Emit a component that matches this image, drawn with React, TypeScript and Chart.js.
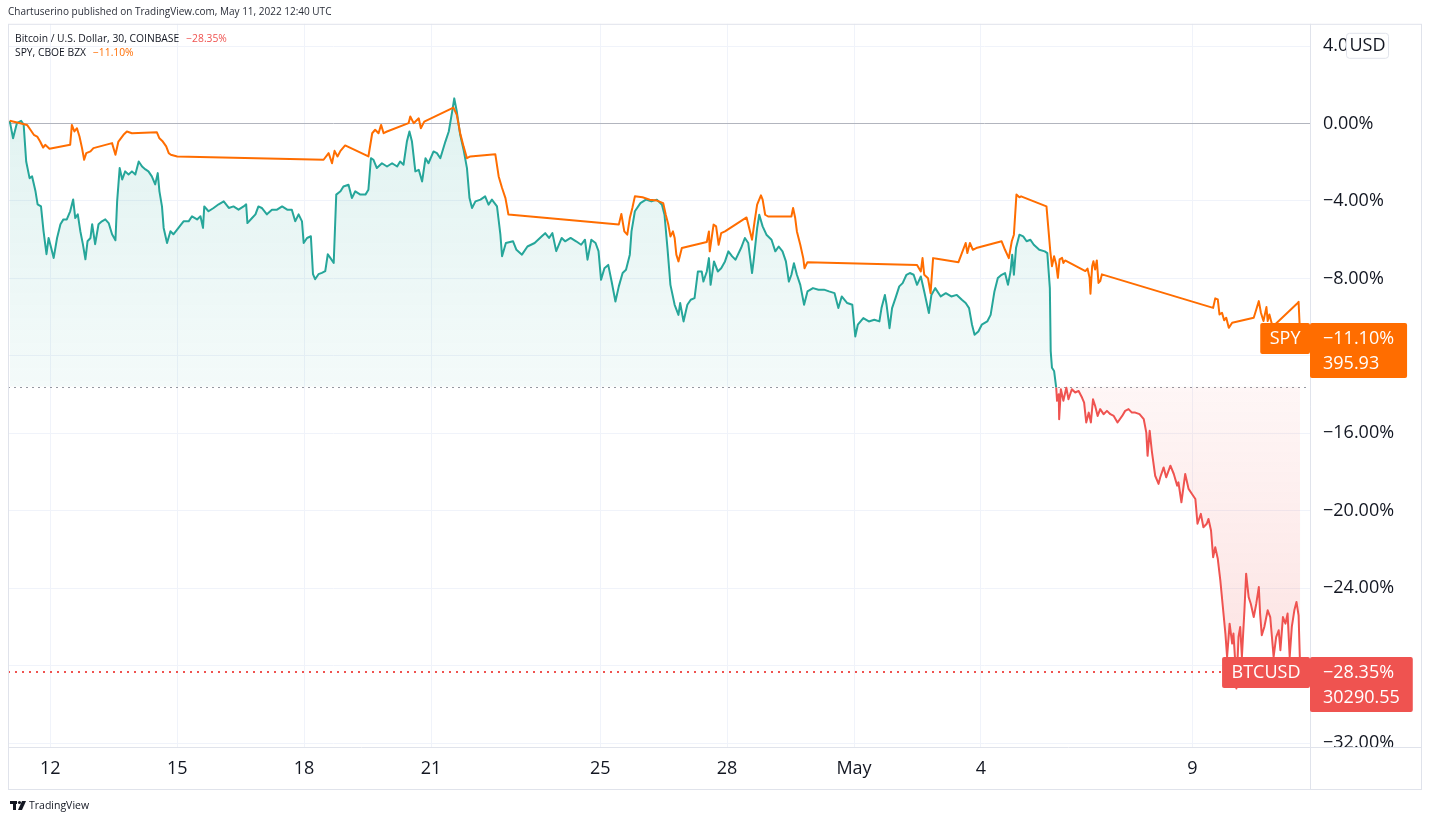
import React, { useEffect, useRef } from 'react';
import { Chart, registerables } from 'chart.js';

Chart.register(...registerables);

// ---- data (x = days since Apr 11 00:00 UTC, y = % change) ----
const BTC_DAYS = [
  0.04, 0.12, 0.21, 0.31, 0.37, 0.43, 0.51, 0.57, 0.65, 0.70, 0.78, 0.84, 0.91, 0.96, 1.02, 1.08, 1.16, 1.24, 1.31, 1.39,
  1.47, 1.54, 1.59, 1.65, 1.71, 1.77, 1.83, 1.88, 1.95, 1.99, 2.06, 2.14, 2.22, 2.30, 2.38, 2.46, 2.54, 2.58, 2.64, 2.70,
  2.77, 2.85, 2.93, 3.01, 3.09, 3.17, 3.25, 3.32, 3.40, 3.48, 3.54, 3.58, 3.64, 3.68, 3.76, 3.84, 3.91, 4.03, 4.15, 4.27,
  4.35, 4.47, 4.55, 4.61, 4.64, 4.74, 4.86, 4.98, 5.10, 5.22, 5.33, 5.45, 5.57, 5.63, 5.66, 5.77, 5.85, 5.92, 6.00, 6.12,
  6.24, 6.36, 6.48, 6.60, 6.71, 6.79, 6.87, 6.95, 6.99, 7.07, 7.16, 7.21, 7.26, 7.34, 7.42, 7.50, 7.56, 7.62, 7.70, 7.76,
  7.86, 7.93, 8.05, 8.13, 8.21, 8.33, 8.45, 8.52, 8.58, 8.64, 8.72, 8.84, 8.96, 9.08, 9.20, 9.27, 9.35, 9.43, 9.49, 9.55,
  9.63, 9.71, 9.79, 9.87, 9.94, 10.06, 10.14, 10.22, 10.34, 10.42, 10.50, 10.55, 10.61, 10.69, 10.77, 10.85, 10.91, 10.97, 11.05, 11.17,
  11.28, 11.36, 11.44, 11.56, 11.64, 11.68, 11.77, 11.94, 12.02, 12.15, 12.28, 12.45, 12.62, 12.70, 12.79, 12.87, 12.96, 13.09, 13.17, 13.30,
  13.43, 13.55, 13.64, 13.70, 13.79, 13.89, 13.96, 14.02, 14.10, 14.19, 14.27, 14.36, 14.44, 14.53, 14.61, 14.70, 14.74, 14.82, 14.95, 15.08,
  15.21, 15.34, 15.46, 15.52, 15.59, 15.66, 15.76, 15.85, 15.89, 15.97, 16.06, 16.14, 16.23, 16.31, 16.40, 16.44, 16.52, 16.57, 16.61, 16.69,
  16.78, 16.86, 16.95, 17.03, 17.12, 17.20, 17.33, 17.42, 17.50, 17.59, 17.63, 17.71, 17.76, 17.84, 17.93, 18.05, 18.14, 18.22, 18.31, 18.39,
  18.46, 18.52, 18.58, 18.65, 18.73, 18.82, 18.90, 19.03, 19.16, 19.29, 19.41, 19.54, 19.63, 19.71, 19.84, 19.96, 20.03, 20.09, 20.22, 20.35,
  20.48, 20.60, 20.65, 20.73, 20.77, 20.84, 20.90, 20.98, 21.07, 21.15, 21.24, 21.32, 21.41, 21.49, 21.58, 21.66, 21.77, 21.83, 21.92, 22.05,
  22.17, 22.30, 22.43, 22.55, 22.64, 22.72, 22.79, 22.85, 22.94, 23.02, 23.15, 23.23, 23.32, 23.40, 23.49, 23.57, 23.64, 23.70, 23.74, 23.78,
  23.83, 23.91, 24.00, 24.08, 24.17, 24.25, 24.38, 24.51, 24.57, 24.63, 24.65, 24.68, 24.73, 24.78, 24.80, 24.84, 24.85, 24.89, 24.95, 25.02,
  25.07, 25.15, 25.23, 25.31, 25.39, 25.44, 25.49, 25.55, 25.60, 25.65, 25.70, 25.76, 25.82, 25.90, 25.98, 26.06, 26.14, 26.23, 26.34, 26.41,
  26.49, 26.57, 26.65, 26.75, 26.85, 26.91, 26.94, 26.99, 27.04, 27.12, 27.20, 27.24, 27.32, 27.38, 27.48, 27.56, 27.64, 27.67, 27.74, 27.83,
  27.91, 27.99, 28.07, 28.12, 28.20, 28.26, 28.34, 28.38, 28.44, 28.49, 28.54, 28.60, 28.66, 28.72, 28.78, 28.82, 28.88, 28.94, 28.97, 29.01,
  29.04, 29.09, 29.13, 29.17, 29.23, 29.27, 29.33, 29.38, 29.45, 29.51, 29.57, 29.60, 29.64, 29.70, 29.78, 29.84, 29.88, 29.92, 29.98, 30.04,
  30.08, 30.14, 30.20, 30.25, 30.30, 30.35, 30.41, 30.46, 30.51, 30.55,
];
const BTC_PCT = [
  0.14, -0.76, 0.02, 0.14, -0.05, -1.96, -2.82, -2.73, -3.50, -4.17, -4.28, -5.56, -6.75, -5.91, -6.42, -6.94, -5.91, -5.20, -4.95, -4.95,
  -4.53, -3.92, -4.88, -4.69, -5.56, -6.23, -7.01, -6.08, -5.91, -5.20, -6.23, -5.20, -5.05, -4.95, -5.14, -5.72, -6.03, -4.02, -2.30, -2.89,
  -2.47, -2.63, -2.47, -2.63, -1.96, -2.22, -2.37, -2.47, -2.73, -3.14, -2.56, -3.50, -4.28, -5.39, -6.17, -5.56, -5.72, -5.39, -5.05, -5.05,
  -4.79, -4.95, -4.79, -5.39, -4.28, -4.53, -4.36, -4.17, -4.02, -4.36, -4.28, -4.45, -4.28, -4.17, -5.14, -4.88, -4.69, -4.28, -4.36, -4.69,
  -4.45, -4.45, -4.28, -4.45, -4.45, -5.05, -4.69, -5.05, -6.17, -5.91, -5.82, -7.78, -8.04, -7.78, -7.71, -7.62, -6.75, -6.94, -7.20, -3.67,
  -3.50, -3.25, -3.16, -3.85, -3.50, -3.67, -3.67, -3.42, -1.79, -1.87, -2.30, -2.05, -2.22, -2.05, -2.22, -1.96, -2.13, -0.93, -0.41, -0.93,
  -2.47, -2.39, -2.99, -1.79, -2.05, -1.44, -1.53, -1.79, -0.93, -0.41, 0.62, 1.30, 0.62, -0.58, -1.35, -2.30, -3.85, -4.36, -4.02, -3.93,
  -3.76, -4.19, -3.93, -4.28, -5.73, -6.85, -6.17, -6.08, -6.52, -6.77, -6.35, -6.17, -5.82, -5.66, -5.91, -5.66, -6.59, -5.91, -6.08, -5.91,
  -6.08, -6.26, -6.00, -7.03, -6.00, -6.17, -6.59, -8.07, -7.47, -7.30, -8.16, -9.19, -8.41, -7.72, -7.55, -6.77, -5.57, -4.53, -4.11, -3.93,
  -4.02, -3.93, -4.19, -4.71, -6.43, -8.33, -9.36, -9.88, -9.27, -10.22, -9.36, -9.10, -9.02, -7.64, -7.64, -8.16, -7.64, -6.95, -8.33, -7.12,
  -7.64, -7.47, -7.12, -6.60, -6.86, -7.03, -6.43, -5.91, -6.17, -7.72, -7.03, -5.40, -4.71, -5.31, -5.74, -6.00, -6.60, -6.35, -6.60, -7.12,
  -8.16, -7.81, -7.21, -7.81, -8.33, -9.36, -8.67, -8.50, -8.58, -8.58, -8.67, -8.76, -9.53, -8.93, -9.27, -9.36, -11.00, -10.39, -10.05, -10.22,
  -10.13, -10.22, -9.53, -8.85, -9.36, -10.57, -9.53, -9.02, -8.41, -8.24, -7.81, -7.72, -7.81, -8.33, -7.90, -8.67, -9.79, -8.85, -8.50, -8.93,
  -8.76, -8.93, -8.85, -9.10, -9.27, -9.53, -10.39, -10.91, -10.74, -10.39, -10.22, -9.88, -8.67, -7.98, -7.81, -7.72, -8.33, -7.64, -6.77, -7.81,
  -6.43, -5.74, -5.83, -6.08, -6.00, -6.26, -6.52, -6.60, -6.69, -8.50, -11.75, -12.61, -12.78, -13.64, -14.32, -13.98, -15.27, -13.72, -14.32, -13.64,
  -14.24, -13.72, -13.89, -13.81, -14.15, -14.41, -15.44, -14.93, -15.44, -14.24, -14.58, -15.10, -14.75, -15.01, -14.84, -15.01, -15.10, -15.44, -15.10, -14.84,
  -14.75, -14.93, -14.93, -15.01, -15.27, -15.96, -17.16, -15.87, -16.90, -18.19, -18.61, -18.27, -17.76, -18.27, -17.67, -18.10, -18.70, -18.53, -19.56, -18.10,
  -18.87, -19.13, -19.39, -20.67, -20.16, -20.85, -20.67, -20.42, -21.02, -22.40, -21.88, -22.48, -23.60, -24.97, -26.34, -27.55, -25.83, -26.86, -26.34, -27.72,
  -29.18, -26.52, -26.00, -27.55, -25.14, -23.25, -24.46, -24.80, -25.49, -24.80, -23.94, -25.31, -26.43, -26.00, -25.14, -25.49, -26.52, -27.55, -26.52, -26.17,
  -27.20, -25.49, -25.83, -25.31, -27.55, -26.00, -25.14, -24.71, -25.40, -28.35,
];

const SPY_DAYS = [
  0.04, 0.29, 0.45, 0.53, 0.61, 0.69, 0.76, 0.83, 0.88, 0.98, 1.47, 1.51, 1.57, 1.63, 1.69, 1.75, 1.80, 1.85, 1.95, 2.02,
  2.46, 2.54, 2.61, 2.73, 2.81, 2.93, 3.52, 3.58, 3.66, 3.74, 3.80, 3.85, 4.00, 7.46, 7.58, 7.66, 7.72, 7.79, 7.86, 7.97,
  8.52, 8.61, 8.68, 8.76, 8.82, 8.88, 8.96, 9.47, 9.51, 9.59, 9.71, 9.76, 9.84, 10.53, 10.61, 10.69, 10.77, 10.85, 10.93, 11.52,
  11.60, 11.68, 11.76, 11.83, 14.44, 14.50, 14.57, 14.64, 14.70, 14.76, 14.82, 15.00, 15.17, 15.34, 15.49, 15.55, 15.61, 15.66, 15.72, 15.76,
  15.80, 15.85, 15.93, 16.52, 16.57, 16.59, 16.68, 16.74, 16.80, 16.86, 16.95, 17.46, 17.59, 17.65, 17.71, 17.80, 17.84, 17.90, 17.97, 18.52,
  18.56, 18.61, 18.65, 18.73, 18.80, 18.83, 18.90, 21.49, 21.58, 21.62, 21.66, 21.75, 21.81, 21.87, 21.96, 22.47, 22.55, 22.64, 22.68, 22.74,
  22.81, 22.89, 23.49, 23.57, 23.66, 23.73, 23.78, 23.84, 23.91, 23.95, 24.55, 24.60, 24.64, 24.68, 24.73, 24.78, 24.82, 24.86, 24.92, 24.95,
  24.99, 25.47, 25.52, 25.57, 25.59, 25.63, 25.66, 25.70, 25.74, 25.78, 25.82, 25.86, 28.49, 28.54, 28.60, 28.64, 28.70, 28.75, 28.80, 28.86,
  28.94, 29.45, 29.51, 29.57, 29.62, 29.68, 29.75, 29.78, 29.82, 29.88, 29.96, 30.47, 30.51, 30.55,
];
const SPY_PCT = [
  0.14, 0.02, -0.07, -0.32, -0.58, -0.67, -0.93, -1.24, -1.10, -1.30, -1.10, -0.07, -0.41, -0.24, -0.67, -1.27, -1.87, -1.53, -1.44, -1.27,
  -1.01, -1.61, -0.93, -0.58, -0.41, -0.50, -0.45, -0.76, -0.93, -1.18, -1.53, -1.61, -1.70, -1.87, -1.53, -2.05, -1.41, -1.70, -1.41, -1.13,
  -1.70, -0.50, -0.32, -0.50, -0.07, -0.50, -0.41, 0.02, 0.36, 0.02, 0.27, -0.24, 0.10, 0.82, 0.45, -0.50, -1.18, -1.79, -1.70, -1.58,
  -2.73, -3.33, -3.85, -4.70, -5.22, -4.67, -5.57, -5.74, -4.88, -4.36, -3.76, -3.81, -3.93, -3.98, -4.11, -4.71, -5.22, -5.83, -5.57, -5.91,
  -6.77, -7.12, -6.43, -6.12, -5.57, -6.60, -5.22, -5.31, -6.26, -5.66, -5.57, -4.85, -6.00, -5.05, -4.19, -3.71, -3.93, -4.71, -4.80, -4.80,
  -4.36, -4.88, -5.57, -6.26, -6.95, -7.47, -7.16, -7.30, -7.64, -6.95, -7.81, -7.99, -8.76, -6.95, -6.98, -7.16, -6.69, -6.17, -6.69, -6.17,
  -6.52, -6.43, -6.08, -6.52, -6.95, -6.08, -5.74, -3.67, -3.81, -3.76, -4.28, -5.56, -6.59, -7.37, -6.85, -7.28, -7.97, -7.02, -6.94, -7.20,
  -7.07, -7.62, -7.49, -7.97, -8.79, -7.37, -7.11, -7.54, -7.07, -8.23, -8.14, -7.79, -9.52, -9.03, -9.08, -9.86, -9.77, -10.16, -10.03, -10.55,
  -10.29, -10.03, -9.60, -9.17, -9.77, -10.20, -9.48, -10.20, -9.86, -10.37, -10.37, -9.31, -9.21, -11.10,
];

const X_TICK_DAYS = [1, 4, 7, 10, 14, 17, 20, 23, 28];
const X_TICK_LABELS = ['12', '15', '18', '21', '25', '28', 'May', '4', '9'];
const Y_TICKS = [4, 0, -4, -8, -12, -16, -20, -24, -28, -32];
const X_MIN = 0;
const X_MAX = 30.78;
const Y_MIN = -32.2;
const Y_MAX = 5.152;
const BASELINE = -13.6;
const BTC_NAME = 'BTCUSD';
const SPY_NAME = 'SPY';
const BTC_PRICE = '30290.55';
const SPY_PRICE = '395.93';
const BTC_LEGEND = 'Bitcoin / U.S. Dollar, 30, COINBASE';
const SPY_LEGEND = 'SPY, CBOE BZX';
const HEADER = 'Chartuserino published on TradingView.com, May 11, 2022 12:40 UTC';

// ---- styles ----
const TEAL = '#26a69a';
const RED = '#ef5350';
const ORANGE = '#ff6d00';
const TEXT = '#131722';
const FRAME = '#e0e3eb';
const GRID = '#f0f3fa';
const ZERO = '#b2b5be';
const FONT = "'Open Sans', 'Liberation Sans', sans-serif";

const BTC_LAST = BTC_PCT[BTC_PCT.length - 1];
const SPY_LAST = SPY_PCT[SPY_PCT.length - 1];

function fmtPct(v: number) {
  return (v < 0 ? '\u2212' : '') + Math.abs(v).toFixed(2) + '%';
}

function rr(ctx: CanvasRenderingContext2D, x: number, y: number, w: number, h: number, r: number) {
  ctx.beginPath();
  ctx.moveTo(x + r, y);
  ctx.arcTo(x + w, y, x + w, y + h, r);
  ctx.arcTo(x + w, y + h, x, y + h, r);
  ctx.arcTo(x, y + h, x, y, r);
  ctx.arcTo(x, y, x + w, y, r);
  ctx.closePath();
}

const overlay = {
  id: 'overlay',
  beforeDatasetsDraw(chart: any) {
    const { ctx, chartArea: a } = chart;
    const ys = chart.scales.y;
    ctx.save();
    const yb = Math.round(ys.getPixelForValue(BASELINE)) + 0.5;
    ctx.strokeStyle = '#9598a1';
    ctx.lineWidth = 1;
    ctx.setLineDash([2, 4]);
    ctx.beginPath();
    ctx.moveTo(a.left, yb);
    ctx.lineTo(a.right, yb);
    ctx.stroke();
    ctx.font = `18px ${FONT}`;
    const nw = ctx.measureText(BTC_NAME).width + 19;
    const yl = Math.round(ys.getPixelForValue(BTC_LAST));
    ctx.strokeStyle = RED;
    ctx.lineWidth = 2;
    ctx.setLineDash([2, 5]);
    ctx.beginPath();
    ctx.moveTo(a.left, yl);
    ctx.lineTo(a.right - nw, yl);
    ctx.stroke();
    ctx.restore();
  },
  afterDraw(chart: any) {
    const { ctx, chartArea: a } = chart;
    const ys = chart.scales.y;
    const xs = chart.scales.x;
    const right = ys.right;
    const bottom = xs.bottom;
    ctx.save();
    // clip the axis label that runs into the time axis
    ctx.fillStyle = '#ffffff';
    ctx.fillRect(a.right + 1, a.bottom + 1, right - a.right - 1, bottom - a.bottom - 1);
    // frame
    ctx.strokeStyle = FRAME;
    ctx.lineWidth = 1;
    ctx.setLineDash([]);
    ctx.strokeRect(a.left + 0.5, a.top + 0.5, right - a.left - 1, bottom - a.top - 1);
    ctx.beginPath();
    ctx.moveTo(a.right + 0.5, a.top);
    ctx.lineTo(a.right + 0.5, bottom);
    ctx.moveTo(a.left, a.bottom + 0.5);
    ctx.lineTo(right, a.bottom + 0.5);
    ctx.stroke();

    // USD box
    ctx.font = `18px ${FONT}`;
    const uw = ctx.measureText('USD').width + 6;
    const ux = a.right + 36;
    const uy = a.top + 9;
    ctx.fillStyle = '#ffffff';
    rr(ctx, ux + 0.5, uy + 0.5, uw, 25, 3);
    ctx.fill();
    ctx.strokeStyle = FRAME;
    ctx.stroke();
    ctx.fillStyle = TEXT;
    ctx.textAlign = 'center';
    ctx.textBaseline = 'middle';
    ctx.fillText('USD', ux + 0.5 + uw / 2, uy + 13);

    // price tags
    const tag = (name: string, value: number, price: string, color: string) => {
      const yc = Math.round(ys.getPixelForValue(value));
      ctx.font = `18px ${FONT}`;
      const t1 = fmtPct(value);
      const w = Math.max(ctx.measureText(t1).width, ctx.measureText(price).width) + 26;
      ctx.fillStyle = color;
      rr(ctx, a.right, yc - 15, w, 55, 2);
      ctx.fill();
      const nw = ctx.measureText(name).width + 19;
      rr(ctx, a.right - nw, yc - 15, nw, 31, 2);
      ctx.fill();
      ctx.fillStyle = '#ffffff';
      ctx.textAlign = 'left';
      ctx.textBaseline = 'middle';
      ctx.fillText(t1, a.right + 13, yc + 1);
      ctx.fillText(price, a.right + 13, yc + 26);
      ctx.textAlign = 'center';
      ctx.fillText(name, a.right - nw / 2, yc + 1);
    };
    tag(SPY_NAME, SPY_LAST, SPY_PRICE, ORANGE);
    tag(BTC_NAME, BTC_LAST, BTC_PRICE, RED);

    // header
    ctx.textAlign = 'left';
    ctx.textBaseline = 'middle';
    ctx.font = `10px ${FONT}`;
    ctx.fillStyle = '#2a2e39';
    ctx.fillText(HEADER, a.left, 12);

    // legend
    ctx.font = `10.3px ${FONT}`;
    const legend = (label: string, value: number, color: string, yy: number) => {
      ctx.fillStyle = TEXT;
      ctx.fillText(label, a.left + 7, yy);
      const w = ctx.measureText(label).width;
      ctx.fillStyle = color;
      ctx.fillText(fmtPct(value), a.left + 7 + w + 7, yy);
    };
    legend(BTC_LEGEND, BTC_LAST, RED, a.top + 15);
    legend(SPY_LEGEND, SPY_LAST, ORANGE, a.top + 29);

    // footer logo
    const fy = bottom + 16;
    ctx.fillStyle = TEXT;
    ctx.fillRect(a.left + 2, fy - 5, 7, 3);
    ctx.fillRect(a.left + 5, fy - 5, 3, 9);
    ctx.beginPath();
    ctx.arc(a.left + 11.5, fy - 3.5, 1.6, 0, Math.PI * 2);
    ctx.fill();
    ctx.beginPath();
    ctx.moveTo(a.left + 14, fy - 5);
    ctx.lineTo(a.left + 18, fy - 5);
    ctx.lineTo(a.left + 14, fy + 4);
    ctx.lineTo(a.left + 10, fy + 4);
    ctx.closePath();
    ctx.fill();
    ctx.font = `10.5px ${FONT}`;
    ctx.fillText('TradingView', a.left + 21, fy);
    ctx.restore();
  },
};

export default function App() {
  const ref = useRef<HTMLCanvasElement>(null);
  useEffect(() => {
    const canvas = ref.current;
    if (!canvas) return;
    const btcData = BTC_DAYS.map((d, i) => ({ x: d, y: BTC_PCT[i] }));
    const spyData = SPY_DAYS.map((d, i) => ({ x: d, y: SPY_PCT[i] }));
    const chart = new Chart(canvas, {
      type: 'line',
      data: {
        datasets: [
          {
            label: 'SPY',
            data: spyData,
            borderColor: ORANGE,
            borderWidth: 2,
            pointRadius: 0,
            tension: 0,
            fill: false,
            order: 0,
            borderJoinStyle: 'round',
          },
          {
            label: 'BTCUSD',
            data: btcData,
            borderColor: TEAL,
            borderWidth: 2,
            pointRadius: 0,
            tension: 0,
            order: 1,
            borderJoinStyle: 'round',
            segment: {
              borderColor: (s: any) => ((s.p0.parsed.y + s.p1.parsed.y) / 2 >= BASELINE ? TEAL : RED),
            },
            fill: (c: any) => {
              const ch = c.chart;
              const ys = ch.scales && ch.scales.y;
              let above: any = 'rgba(38,166,154,0.09)';
              let below: any = 'rgba(239,83,80,0.1)';
              if (ch.chartArea && ys) {
                const y0 = ys.getPixelForValue(BASELINE);
                const yTop = ys.getPixelForValue(Math.max(...BTC_PCT));
                const yBot = ys.getPixelForValue(Math.min(...BTC_PCT));
                const g1 = ch.ctx.createLinearGradient(0, yTop, 0, y0);
                g1.addColorStop(0, 'rgba(38,166,154,0.14)');
                g1.addColorStop(1, 'rgba(38,166,154,0.05)');
                const g2 = ch.ctx.createLinearGradient(0, y0, 0, yBot);
                g2.addColorStop(0, 'rgba(239,83,80,0.05)');
                g2.addColorStop(1, 'rgba(239,83,80,0.17)');
                above = g1;
                below = g2;
              }
              return { target: { value: BASELINE }, above, below };
            },
          } as any,
        ],
      },
      options: {
        animation: false,
        responsive: false,
        devicePixelRatio: 1,
        events: [],
        layout: { padding: { left: 8, top: 22, right: 9, bottom: 33 } },
        plugins: { legend: { display: false }, tooltip: { enabled: false } },
        scales: {
          x: {
            type: 'linear',
            min: X_MIN,
            max: X_MAX,
            afterBuildTicks: (s: any) => {
              s.ticks = X_TICK_DAYS.map((v) => ({ value: v }));
            },
            afterFit: (s: any) => {
              s.height = 43;
            },
            grid: { color: GRID, drawTicks: false },
            border: { display: false },
            ticks: {
              autoSkip: false,
              maxRotation: 0,
              padding: 11,
              color: TEXT,
              font: { family: FONT, size: 18 },
              callback: (_v: any, i: number) => X_TICK_LABELS[i],
            },
          },
          y: {
            type: 'linear',
            position: 'right',
            min: Y_MIN,
            max: Y_MAX,
            afterBuildTicks: (s: any) => {
              s.ticks = Y_TICKS.map((v) => ({ value: v }));
            },
            afterFit: (s: any) => {
              s.width = 112;
            },
            grid: {
              color: (c: any) => (c.tick && c.tick.value === 0 ? ZERO : GRID),
              drawTicks: false,
            },
            border: { display: false },
            ticks: {
              autoSkip: false,
              padding: 13,
              color: TEXT,
              font: { family: FONT, size: 18 },
              callback: (v: any) => {
                const n = Number(v);
                if (Math.abs(n - BTC_LAST) < 1.5 || Math.abs(n - SPY_LAST) < 1.5) return '';
                return fmtPct(n);
              },
            },
          },
        },
      },
      plugins: [overlay],
    } as any);
    return () => chart.destroy();
  }, []);
  return (
    <div style={{ position: 'absolute', left: 0, top: 0, width: 1431, height: 823, background: '#ffffff' }}>
      <canvas ref={ref} width={1431} height={823} style={{ display: 'block', width: 1431, height: 823 }} />
    </div>
  );
}
